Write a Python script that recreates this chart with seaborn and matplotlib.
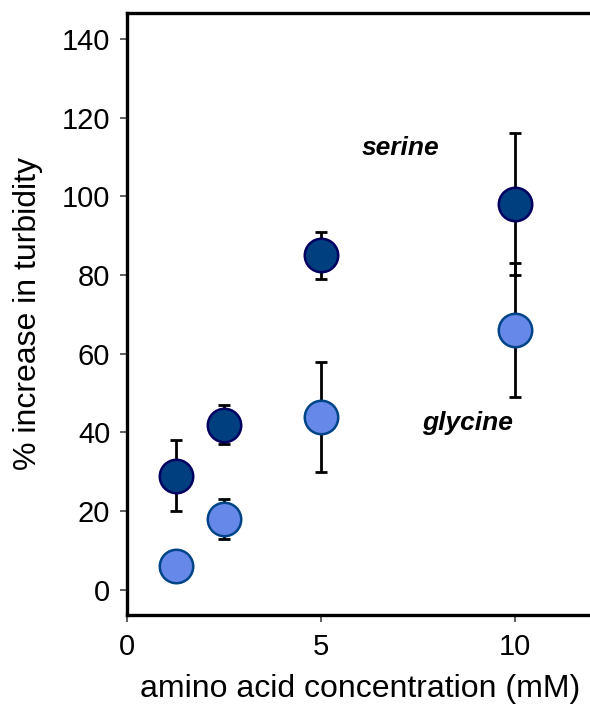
import matplotlib
matplotlib.use("Agg")
import matplotlib.pyplot as plt
import seaborn as sns
import pandas as pd

conc = [1.25, 2.5, 5, 10]
serine_mean = [29, 42, 85, 98]
serine_err = [9, 5, 6, 18]
glycine_mean = [6, 18, 44, 66]
glycine_err = [0, 5, 14, 17]

sns.set_style("white")
plt.rcParams['font.family'] = ['Liberation Sans', 'DejaVu Sans']
plt.rcParams['text.color'] = 'black'
plt.rcParams['axes.labelcolor'] = 'black'
plt.rcParams['xtick.color'] = 'black'
plt.rcParams['ytick.color'] = 'black'

df = pd.DataFrame({
    "conc": conc * 2,
    "value": serine_mean + glycine_mean,
    "err": serine_err + glycine_err,
    "aa": ["serine"] * 4 + ["glycine"] * 4,
})

fig = plt.figure(figsize=(5.9, 7.05), dpi=100)
ax = fig.add_axes([127 / 590, 1 - 615 / 705, (590 - 127) / 590, (615 - 13) / 705])

fills = {"serine": "#003F7F", "glycine": "#6688E8"}
edges = {"serine": "#000060", "glycine": "#004488"}

for aa in ["serine", "glycine"]:
    d = df[df.aa == aa]
    ax.errorbar(d.conc, d.value, yerr=d.err, fmt="none", ecolor="black",
                elinewidth=2.0, capsize=4, capthick=2.0, zorder=2)
    sns.scatterplot(data=d, x="conc", y="value", ax=ax, s=580,
                    color=fills[aa], edgecolor=edges[aa], linewidth=1.8,
                    zorder=3, legend=False)

ax.set_xlim(0, 11.93)
ax.set_ylim(-6.4, 146.6)
ax.set_xticks([0, 5, 10])
ax.set_yticks(range(0, 141, 20))

for s in ["left", "bottom", "top"]:
    ax.spines[s].set_linewidth(2.4)
    ax.spines[s].set_color("black")
ax.spines["right"].set_visible(False)

ax.tick_params(axis="both", which="both", direction="out", length=5, width=1.2,
               labelsize=21, left=True, bottom=True)
ax.tick_params(axis="y", pad=7)
ax.tick_params(axis="x", pad=8)
ax.tick_params(axis="both", which="both", color="#444444")

ax.set_xlabel("amino acid concentration (mM)", fontsize=23)
ax.set_ylabel("% increase in turbidity", fontsize=23)
ax.xaxis.set_label_coords(0.503, -0.098)
ax.yaxis.set_label_coords(-0.182, 0.5)

ax.text(6.05, 112.3, "serine", fontsize=19, fontweight="bold", fontstyle="italic",
        ha="left", va="center")
ax.text(7.6, 42.4, "glycine", fontsize=19, fontweight="bold", fontstyle="italic",
        ha="left", va="center")

fig.savefig("out.png", dpi=100)
